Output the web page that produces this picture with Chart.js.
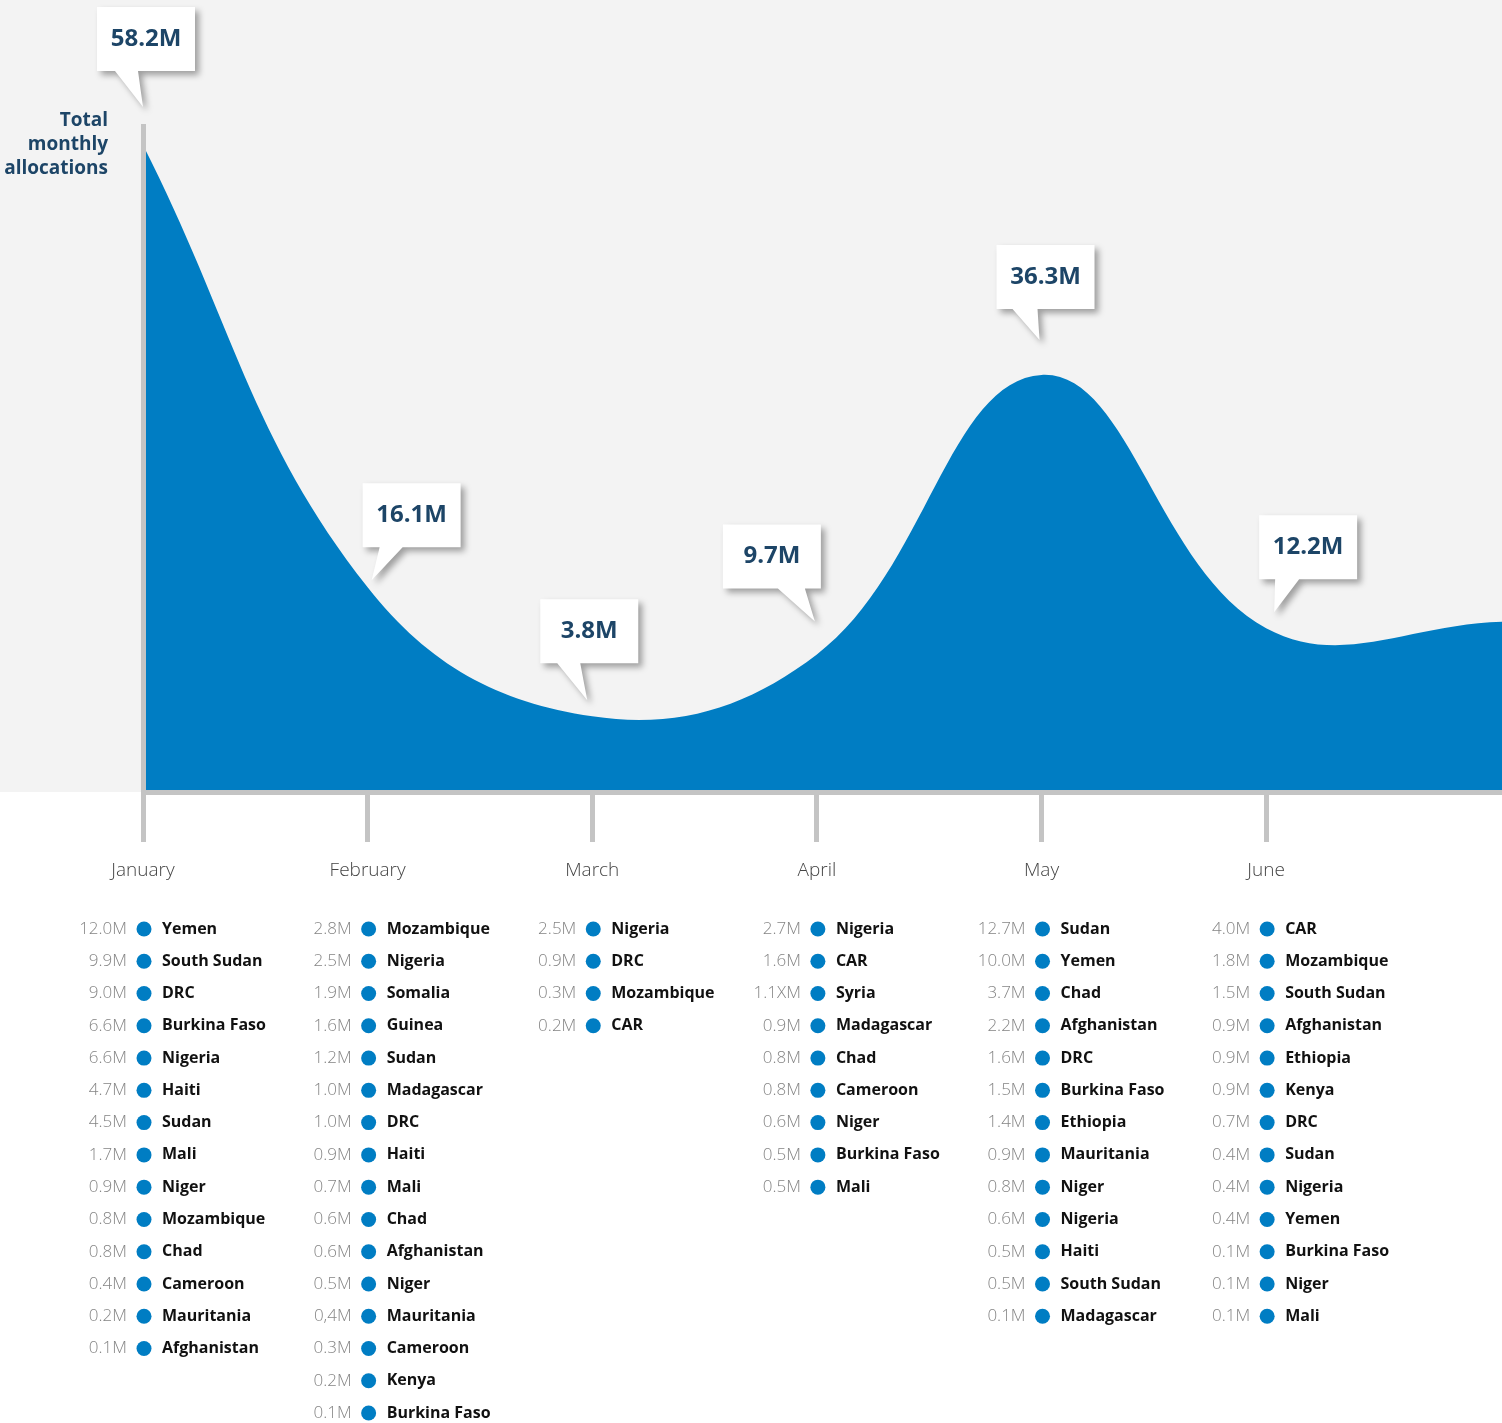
<!DOCTYPE html>
<html>
<head>
<meta charset="utf-8">
<script src="https://cdn.jsdelivr.net/npm/chart.js@4.4.1/dist/chart.umd.min.js"></script>
<style>
  html, body { margin: 0; padding: 0; background: #ffffff; }
  canvas { display: block; }
</style>
</head>
<body>
<canvas id="c" width="1502" height="1423"></canvas>
<script>
// ---------- DATA ----------
const months = ['January', 'February', 'March', 'April', 'May', 'June'];
const totals = [58.2, 16.1, 3.8, 9.7, 36.3, 12.2];            // total monthly allocations, US$ millions
const totalLabels = ['58.2M', '16.1M', '3.8M', '9.7M', '36.3M', '12.2M'];
const edgeMonth = 6.05;   // right edge of the timeline (just past the start of July)
const edgeValue = 12.8;   // level of the curve where it leaves the right edge

const janCountries = ['Yemen', 'South Sudan', 'DRC', 'Burkina Faso', 'Nigeria', 'Haiti', 'Sudan', 'Mali', 'Niger', 'Mozambique', 'Chad', 'Cameroon', 'Mauritania', 'Afghanistan'];
const janValues    = ['12.0M', '9.9M', '9.0M', '6.6M', '6.6M', '4.7M', '4.5M', '1.7M', '0.9M', '0.8M', '0.8M', '0.4M', '0.2M', '0.1M'];

const febCountries = ['Mozambique', 'Nigeria', 'Somalia', 'Guinea', 'Sudan', 'Madagascar', 'DRC', 'Haiti', 'Mali', 'Chad', 'Afghanistan', 'Niger', 'Mauritania', 'Cameroon', 'Kenya', 'Burkina Faso'];
const febValues    = ['2.8M', '2.5M', '1.9M', '1.6M', '1.2M', '1.0M', '1.0M', '0.9M', '0.7M', '0.6M', '0.6M', '0.5M', '0,4M', '0.3M', '0.2M', '0.1M'];

const marCountries = ['Nigeria', 'DRC', 'Mozambique', 'CAR'];
const marValues    = ['2.5M', '0.9M', '0.3M', '0.2M'];

const aprCountries = ['Nigeria', 'CAR', 'Syria', 'Madagascar', 'Chad', 'Cameroon', 'Niger', 'Burkina Faso', 'Mali'];
const aprValues    = ['2.7M', '1.6M', '1.1XM', '0.9M', '0.8M', '0.8M', '0.6M', '0.5M', '0.5M'];

const mayCountries = ['Sudan', 'Yemen', 'Chad', 'Afghanistan', 'DRC', 'Burkina Faso', 'Ethiopia', 'Mauritania', 'Niger', 'Nigeria', 'Haiti', 'South Sudan', 'Madagascar'];
const mayValues    = ['12.7M', '10.0M', '3.7M', '2.2M', '1.6M', '1.5M', '1.4M', '0.9M', '0.8M', '0.6M', '0.5M', '0.5M', '0.1M'];

const junCountries = ['CAR', 'Mozambique', 'South Sudan', 'Afghanistan', 'Ethiopia', 'Kenya', 'DRC', 'Sudan', 'Nigeria', 'Yemen', 'Burkina Faso', 'Niger', 'Mali'];
const junValues    = ['4.0M', '1.8M', '1.5M', '0.9M', '0.9M', '0.9M', '0.7M', '0.4M', '0.4M', '0.4M', '0.1M', '0.1M', '0.1M'];

const yTitle = ['Total', 'monthly', 'allocations'];

// ---------- STYLE ----------
const BLUE = '#007dc3';
const NAVY = '#1d4567';
const AXIS_GREY = '#c4c4c4';
const BG = '#f3f3f3';
const FONT = '"Open Sans", "Noto Sans", sans-serif';

const lists = [
  [janCountries, janValues], [febCountries, febValues], [marCountries, marValues],
  [aprCountries, aprValues], [mayCountries, mayValues], [junCountries, junValues]
];

// callout geometry relative to each month's point: box left/bottom offset, tail base (from box left), tail tip offset
const calloutStyle = [
  { bx: -46, bb: -74, t1: 18, t2: 41, tx: 0,  ty: -38 },
  { bx: -5,  bb: -40, t1: 17, t2: 40, tx: 4,  ty: -7 },
  { bx: -52, bb: -53, t1: 17, t2: 40, tx: -5, ty: -16 },
  { bx: -94, bb: -66, t1: 55, t2: 82, tx: -2, ty: -33 },
  { bx: -45, bb: -66, t1: 16, t2: 41, tx: -2, ty: -35 },
  { bx: -7,  bb: -49, t1: 16, t2: 40, tx: 8,  ty: -16 }
];

const points = totals.map((v, i) => ({ x: i, y: v }));
points.push({ x: edgeMonth, y: edgeValue });

const deco = {
  id: 'deco',
  beforeDraw(chart) {
    const { ctx, chartArea } = chart;
    ctx.save();
    ctx.fillStyle = BG;
    ctx.fillRect(0, 0, chart.width, chartArea.bottom);
    ctx.restore();
  },
  afterDraw(chart) {
    const { ctx, chartArea } = chart;
    const xs = chart.scales.x, ys = chart.scales.y;

    // y title
    ctx.save();
    ctx.fillStyle = NAVY;
    ctx.font = 'bold 19px ' + FONT;
    ctx.textAlign = 'right';
    ctx.textBaseline = 'middle';
    yTitle.forEach((t, i) => ctx.fillText(t, chartArea.left - 35, chartArea.top - 5 + i * 24));
    ctx.restore();

    // callouts
    totals.forEach((v, i) => {
      const px = xs.getPixelForValue(i), py = ys.getPixelForValue(v);
      const c = calloutStyle[i];
      const bw = 98, bh = 64;
      const bx = px + c.bx, bb = py + c.bb, bt = bb - bh;
      ctx.save();
      ctx.shadowColor = 'rgba(0,0,0,0.35)';
      ctx.shadowBlur = 6;
      ctx.shadowOffsetX = 4;
      ctx.shadowOffsetY = 4;
      ctx.fillStyle = '#ffffff';
      ctx.beginPath();
      ctx.moveTo(bx, bt);
      ctx.lineTo(bx + bw, bt);
      ctx.lineTo(bx + bw, bb);
      ctx.lineTo(bx + c.t2, bb);
      ctx.lineTo(px + c.tx, py + c.ty);
      ctx.lineTo(bx + c.t1, bb);
      ctx.lineTo(bx, bb);
      ctx.closePath();
      ctx.fill();
      ctx.restore();
      ctx.save();
      ctx.fillStyle = NAVY;
      ctx.font = 'bold 24px ' + FONT;
      ctx.textAlign = 'center';
      ctx.textBaseline = 'middle';
      ctx.fillText(totalLabels[i], bx + bw / 2, bt + bh / 2);
      ctx.restore();
    });

    // per-month country lists
    const rowTop = chartArea.bottom + 137, rowGap = 32.27;
    lists.forEach(([names, vals], i) => {
      const cx = xs.getPixelForValue(i) + 1;
      names.forEach((n, r) => {
        const y = rowTop + r * rowGap;
        ctx.save();
        ctx.textBaseline = 'middle';
        ctx.font = '300 17px ' + FONT;
        ctx.fillStyle = '#858585';
        ctx.textAlign = 'right';
        ctx.fillText(vals[r], cx - 17, y);
        ctx.fillStyle = BLUE;
        ctx.beginPath();
        ctx.arc(cx, y, 7.5, 0, Math.PI * 2);
        ctx.fill();
        ctx.font = 'bold 16px ' + FONT;
        ctx.fillStyle = '#111111';
        ctx.textAlign = 'left';
        ctx.fillText(n, cx + 18, y);
        ctx.restore();
      });
    });
  }
};

new Chart(document.getElementById('c'), {
  type: 'line',
  data: {
    datasets: [{
      data: points,
      fill: 'start',
      backgroundColor: BLUE,
      borderColor: 'rgba(0,0,0,0)',
      borderWidth: 0,
      pointRadius: 0,
      tension: 0.4
    }]
  },
  options: {
    responsive: false,
    animation: false,
    devicePixelRatio: 1,
    layout: { padding: { top: 126, left: 0, right: 0, bottom: 0 } },
    plugins: { legend: { display: false }, tooltip: { enabled: false } },
    scales: {
      x: {
        type: 'linear',
        min: 0,
        max: edgeMonth,
        afterBuildTicks(s) { s.ticks = months.map((m, i) => ({ value: i })); },
        afterFit(s) { s.height = 1423 - 792; },
        grid: { display: true, drawOnChartArea: false, drawTicks: true, tickLength: 50, tickWidth: 5, tickColor: AXIS_GREY, color: AXIS_GREY },
        border: { display: true, color: AXIS_GREY, width: 5, z: 1 },
        ticks: {
          autoSkip: false, maxRotation: 0, padding: 17, color: '#444444',
          font: { family: FONT, size: 19, weight: 300 },
          callback: (v) => months[v] !== undefined ? months[v] : ''
        }
      },
      y: {
        min: -3.4,
        max: 60,
        afterFit(s) { s.width = 143; },
        ticks: { display: false },
        grid: { display: false, drawTicks: false },
        border: { display: true, color: AXIS_GREY, width: 5, z: 1 }
      }
    }
  },
  plugins: [deco]
});
</script>
</body>
</html>
